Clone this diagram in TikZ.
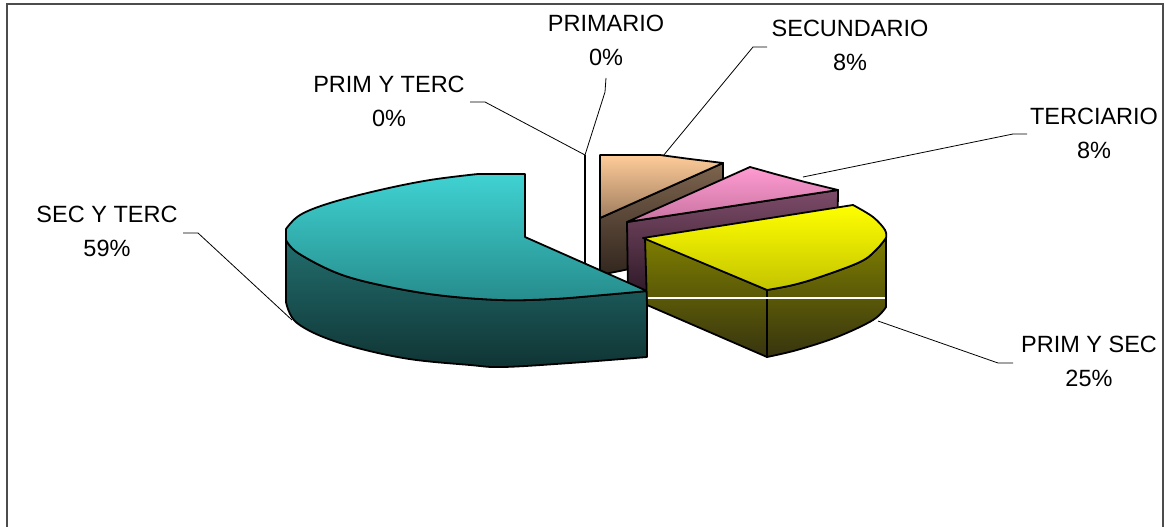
\documentclass[tikz,border=0pt]{standalone}
\usepackage{fontspec}
\setmainfont{Liberation Sans}
\definecolor{tealA}{RGB}{64,210,210}
\definecolor{tealB}{RGB}{38,140,140}
\definecolor{tealC}{RGB}{34,110,110}
\definecolor{tealD}{RGB}{16,52,52}
\definecolor{peachA}{RGB}{255,204,153}
\definecolor{peachB}{RGB}{160,125,95}
\definecolor{brownA}{RGB}{125,100,78}
\definecolor{brownB}{RGB}{50,38,30}
\definecolor{pinkA}{RGB}{255,155,210}
\definecolor{pinkB}{RGB}{200,115,160}
\definecolor{plumA}{RGB}{125,75,105}
\definecolor{plumB}{RGB}{45,25,38}
\definecolor{yelA}{RGB}{255,255,0}
\definecolor{yelB}{RGB}{195,195,0}
\definecolor{oliveA}{RGB}{125,125,0}
\definecolor{oliveB}{RGB}{55,52,15}
\tikzset{
  face/.style={draw=black, line width=1.8pt, line join=round},
  leader/.style={draw=black, line width=0.8pt},
  lbl/.style={align=center, inner sep=0pt, font=\fontsize{23.5}{34}\selectfont},
  frame/.style={draw=black!70, line width=1.5pt}
}
\begin{document}
\begin{tikzpicture}[x=1pt,y=-1pt]
\useasboundingbox (0,0) rectangle (1165,527);
\fill[white] (0,0) rectangle (1165,527);
\draw[frame] (7,527) -- (7,4) -- (1163,4) -- (1163,527);

% ---- SECUNDARIO (peach) slice ----
\path[face, top color=brownA, bottom color=brownB]
  (600,218) -- (723,163) -- (723,250) -- (600,275) -- cycle;
\path[face, top color=peachA, bottom color=peachB]
  (600,155) -- (660,155) -- (690,159) -- (723,163) -- (600,218) -- cycle;

% ---- TERCIARIO (pink) slice ----
\path[face, top color=plumA, bottom color=plumB]
  (627,222) -- (838,190) -- (837,265) -- (628,295) -- cycle;
\path[face, top color=pinkA, bottom color=pinkB]
  (627,222) -- (750,167) -- (775,174) -- (805,182) -- (838,190) -- cycle;

% ---- 0% slices (edge-on) ----
\draw[black, line width=2.4pt] (585,155) -- (585,265);

% ---- SEC Y TERC (teal) slice ----
\path[face, top color=tealC, bottom color=tealD]
  (286,240) -- (286,302)
  -- plot[smooth, tension=0.6] coordinates {(286,302) (297,323) (337,342) (403,358) (470,365) (503,367) (570,363) (647,357)}
  -- (647,291)
  -- plot[smooth, tension=0.6] coordinates {(647,291) (603,295) (553,299) (500,300) (437,295) (380,285) (337,273) (298,253) (286,240)}
  -- cycle;
\path[face, top color=tealA, bottom color=tealB]
  (525,174) -- (478,174)
  -- plot[smooth, tension=0.6] coordinates {(478,174) (430,180) (380,190) (330,203) (300,215) (286,229)}
  -- (286,240)
  -- plot[smooth, tension=0.6] coordinates {(286,240) (298,253) (337,273) (380,285) (437,295) (500,300) (553,299) (603,295) (647,291)}
  -- (525,237) -- cycle;

% ---- PRIM Y SEC (yellow) slice ----
\path[face, top color=oliveA, bottom color=oliveB]
  (645,238) -- (767,290) -- (767,357) -- (647,305) -- cycle;
\path[face, top color=oliveA, bottom color=oliveB]
  plot[smooth, tension=0.6] coordinates {(767,290) (793,285) (820,277) (860,262) (876,250) (886,238)}
  -- (886,307)
  -- plot[smooth, tension=0.6] coordinates {(886,307) (873,320) (837,337) (797,350) (767,357)}
  -- cycle;
\path[face, top color=yelA, bottom color=yelB]
  (643,238) -- (853,205)
  -- plot[smooth, tension=0.6] coordinates {(853,205) (873,217) (885,230) (886,238)}
  -- plot[smooth, tension=0.6] coordinates {(886,238) (876,250) (860,262) (820,277) (793,285) (767,290)}
  -- cycle;
\draw[white, line width=1.2pt] (648,298) -- (885,298);

% ---- labels ----
\node[lbl] (prim) at (606,40.5) {PRIMARIO\\0\%};
\node[lbl] (sec) at (850,45.5) {SECUNDARIO\\8\%};
\node[lbl] (primterc) at (389,101.5) {PRIM Y TERC\\0\%};
\node[lbl] (terc) at (1094,133.5) {TERCIARIO\\8\%};
\node[lbl] (secterc) at (107,231.5) {SEC Y TERC\\59\%};
\node[lbl] (primsec) at (1089,361.5) {PRIM Y SEC\\25\%};

% ---- leader lines ----
\coordinate (zero) at (585,155);
\coordinate (a1) at (606,78);   \coordinate (a2) at (605,92);
\coordinate (b1) at (470,102);  \coordinate (b2) at (485,102);
\coordinate (c1) at (767,47);   \coordinate (c2) at (753,47);  \coordinate (c3) at (663,156);
\coordinate (d1) at (1027,134); \coordinate (d2) at (1013,134); \coordinate (d3) at (803,177);
\coordinate (e1) at (1013,363); \coordinate (e2) at (998,363); \coordinate (e3) at (878,321);
\coordinate (f1) at (183,233);  \coordinate (f2) at (198,233); \coordinate (f3) at (292,320);
\draw[leader] (a1) -- (a2) -- (zero);
\draw[leader] (b1) -- (b2) -- (zero);
\draw[leader] (c1) -- (c2) -- (c3);
\draw[leader] (d1) -- (d2) -- (d3);
\draw[leader] (e1) -- (e2) -- (e3);
\draw[leader] (f1) -- (f2) -- (f3);
\end{tikzpicture}
\end{document}
